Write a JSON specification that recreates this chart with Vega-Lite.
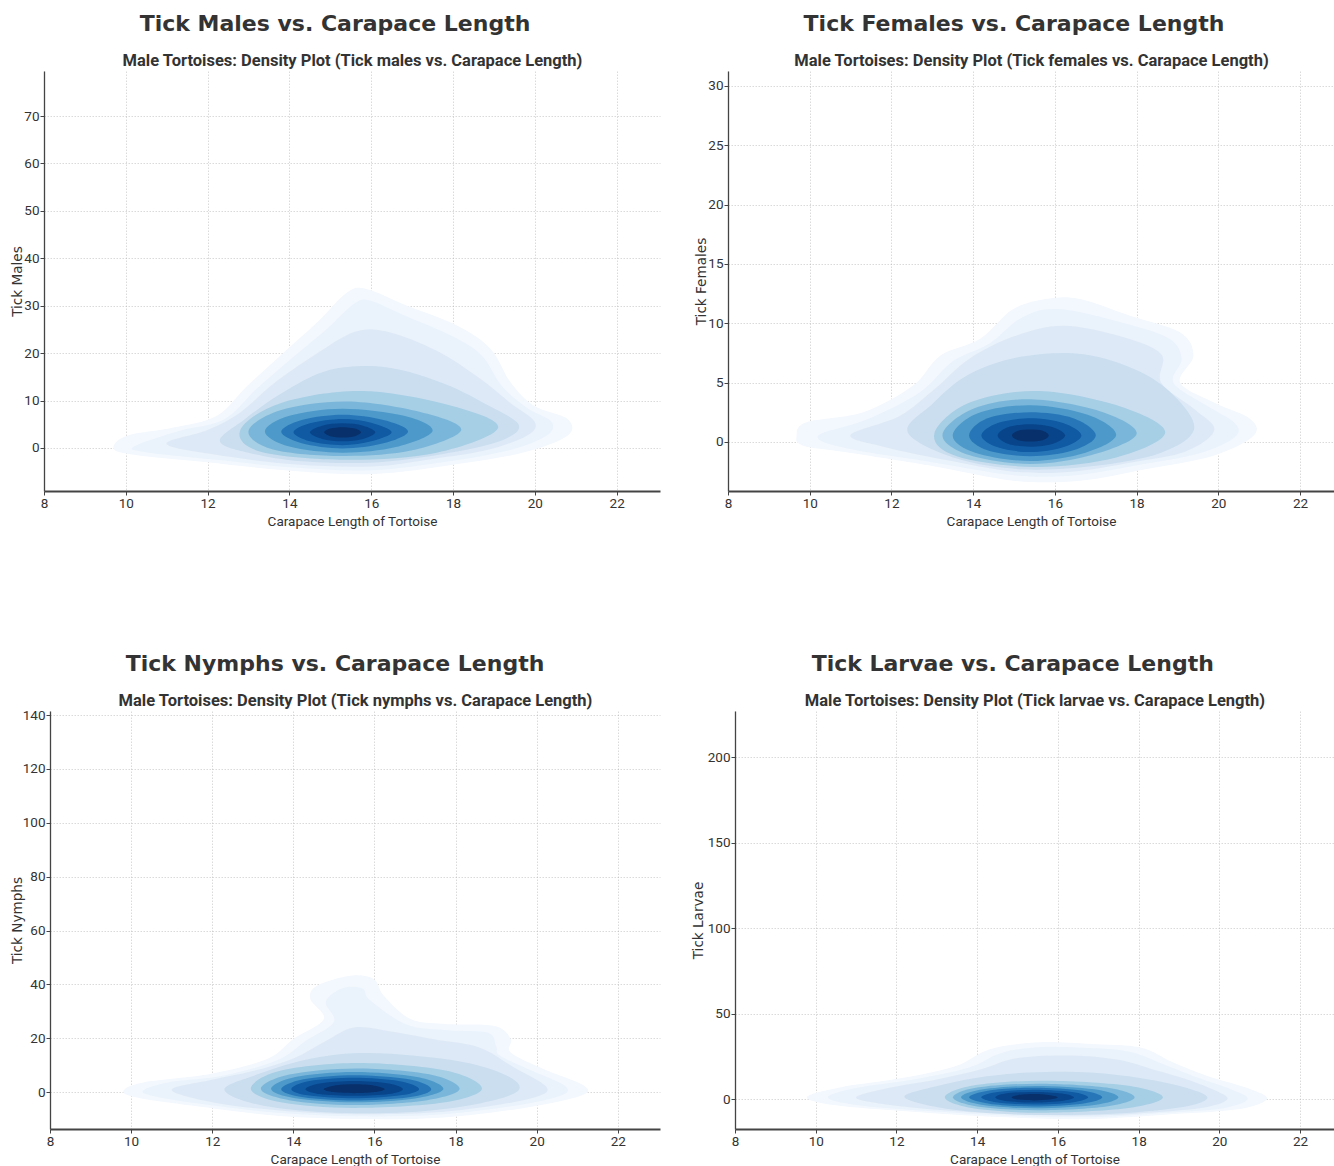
{
"$schema": "https://vega.github.io/schema/vega-lite/v6.json",
"padding": {"left": 10, "top": 13, "right": 0, "bottom": 0},
"background": "white",
"columns": 2,
"bounds": "flush",
"spacing": {"row": 220, "column": 68},
"datasets": {"c": [
{"p":"m","l":1,"x":9.7,"y":0.1},{"p":"m","l":1,"x":10.03,"y":2.6},{"p":"m","l":1,"x":11.17,"y":4.3},{"p":"m","l":1,"x":12.23,"y":6.8},{"p":"m","l":1,"x":12.97,"y":13.1},{"p":"m","l":1,"x":13.78,"y":19.5},{"p":"m","l":1,"x":14.68,"y":26.5},{"p":"m","l":1,"x":15.41,"y":32.8},{"p":"m","l":1,"x":15.9,"y":33.5},{"p":"m","l":1,"x":16.88,"y":30.0},{"p":"m","l":1,"x":18.11,"y":25.8},{"p":"m","l":1,"x":18.92,"y":20.9},{"p":"m","l":1,"x":19.41,"y":13.8},{"p":"m","l":1,"x":19.98,"y":8.9},{"p":"m","l":1,"x":20.8,"y":6.1},{"p":"m","l":1,"x":20.8,"y":2.6},{"p":"m","l":1,"x":19.74,"y":-0.9},{"p":"m","l":1,"x":18.11,"y":-3.4},{"p":"m","l":1,"x":16.07,"y":-5.5},{"p":"m","l":1,"x":14.03,"y":-4.8},{"p":"m","l":1,"x":11.99,"y":-3.0},{"p":"m","l":1,"x":10.11,"y":-1.3},
{"p":"m","l":2,"x":10.2,"y":0.3},{"p":"m","l":2,"x":11.3,"y":3.6},{"p":"m","l":2,"x":12.4,"y":6.0},{"p":"m","l":2,"x":13.2,"y":12.5},{"p":"m","l":2,"x":14.0,"y":18.5},{"p":"m","l":2,"x":14.9,"y":25.0},{"p":"m","l":2,"x":15.6,"y":30.5},{"p":"m","l":2,"x":16.0,"y":31.0},{"p":"m","l":2,"x":16.8,"y":28.0},{"p":"m","l":2,"x":18.0,"y":23.5},{"p":"m","l":2,"x":18.7,"y":19.5},{"p":"m","l":2,"x":19.2,"y":13.0},{"p":"m","l":2,"x":19.8,"y":8.5},{"p":"m","l":2,"x":20.4,"y":5.6},{"p":"m","l":2,"x":20.3,"y":2.7},{"p":"m","l":2,"x":19.4,"y":-0.4},{"p":"m","l":2,"x":17.9,"y":-2.8},{"p":"m","l":2,"x":16.0,"y":-4.7},{"p":"m","l":2,"x":14.1,"y":-4.1},{"p":"m","l":2,"x":12.1,"y":-2.4},{"p":"m","l":2,"x":10.5,"y":-0.9},
{"p":"m","l":3,"x":11.0,"y":0.8},{"p":"m","l":3,"x":12.0,"y":3.8},{"p":"m","l":3,"x":12.8,"y":7.5},{"p":"m","l":3,"x":13.6,"y":13.5},{"p":"m","l":3,"x":14.6,"y":19.5},{"p":"m","l":3,"x":15.6,"y":24.5},{"p":"m","l":3,"x":16.4,"y":24.5},{"p":"m","l":3,"x":17.6,"y":20.5},{"p":"m","l":3,"x":18.6,"y":15.0},{"p":"m","l":3,"x":19.4,"y":9.5},{"p":"m","l":3,"x":20.0,"y":5.5},{"p":"m","l":3,"x":19.8,"y":2.6},{"p":"m","l":3,"x":18.8,"y":-0.5},{"p":"m","l":3,"x":17.5,"y":-2.3},{"p":"m","l":3,"x":16.0,"y":-3.9},{"p":"m","l":3,"x":14.2,"y":-3.5},{"p":"m","l":3,"x":12.5,"y":-1.8},
{"p":"m","l":4,"x":12.3,"y":1.5},{"p":"m","l":4,"x":12.9,"y":6.0},{"p":"m","l":4,"x":13.8,"y":11.5},{"p":"m","l":4,"x":15.0,"y":16.5},{"p":"m","l":4,"x":16.4,"y":17.0},{"p":"m","l":4,"x":17.8,"y":13.5},{"p":"m","l":4,"x":18.9,"y":8.8},{"p":"m","l":4,"x":19.6,"y":5.0},{"p":"m","l":4,"x":19.3,"y":2.0},{"p":"m","l":4,"x":18.2,"y":-0.6},{"p":"m","l":4,"x":16.2,"y":-3.0},{"p":"m","l":4,"x":14.3,"y":-2.8},{"p":"m","l":4,"x":13.0,"y":-1.0},
{"p":"m","l":5,"x":19.1,"y":4.2},{"p":"m","l":5,"x":18.0,"y":8.8},{"p":"m","l":5,"x":15.8,"y":12.0},{"p":"m","l":5,"x":13.8,"y":9.5},{"p":"m","l":5,"x":12.8,"y":3.8},{"p":"m","l":5,"x":13.3,"y":-0.8},{"p":"m","l":5,"x":15.4,"y":-2.5},{"p":"m","l":5,"x":17.6,"y":-1.0},
{"p":"m","l":6,"x":18.2,"y":3.8},{"p":"m","l":6,"x":17.2,"y":7.6},{"p":"m","l":6,"x":15.4,"y":9.8},{"p":"m","l":6,"x":13.8,"y":8.0},{"p":"m","l":6,"x":13.0,"y":3.6},{"p":"m","l":6,"x":13.6,"y":-0.3},{"p":"m","l":6,"x":15.3,"y":-1.7},{"p":"m","l":6,"x":17.0,"y":-0.5},
{"p":"m","l":7,"x":17.5,"y":3.6},{"p":"m","l":7,"x":16.8,"y":6.8},{"p":"m","l":7,"x":15.3,"y":8.3},{"p":"m","l":7,"x":14.0,"y":6.8},{"p":"m","l":7,"x":13.4,"y":3.5},{"p":"m","l":7,"x":14.0,"y":0.3},{"p":"m","l":7,"x":15.3,"y":-1.0},{"p":"m","l":7,"x":16.6,"y":0.2},
{"p":"m","l":8,"x":16.9,"y":3.5},{"p":"m","l":8,"x":16.3,"y":5.9},{"p":"m","l":8,"x":15.3,"y":7.0},{"p":"m","l":8,"x":14.3,"y":5.9},{"p":"m","l":8,"x":13.8,"y":3.4},{"p":"m","l":8,"x":14.3,"y":1.0},{"p":"m","l":8,"x":15.3,"y":-0.1},{"p":"m","l":8,"x":16.3,"y":1.0},
{"p":"m","l":9,"x":16.5,"y":3.3},{"p":"m","l":9,"x":16.0,"y":5.3},{"p":"m","l":9,"x":15.3,"y":6.1},{"p":"m","l":9,"x":14.5,"y":5.2},{"p":"m","l":9,"x":14.1,"y":3.3},{"p":"m","l":9,"x":14.5,"y":1.4},{"p":"m","l":9,"x":15.3,"y":0.6},{"p":"m","l":9,"x":16.0,"y":1.4},
{"p":"m","l":10,"x":16.1,"y":3.3},{"p":"m","l":10,"x":15.8,"y":4.7},{"p":"m","l":10,"x":15.3,"y":5.2},{"p":"m","l":10,"x":14.8,"y":4.7},{"p":"m","l":10,"x":14.5,"y":3.3},{"p":"m","l":10,"x":14.8,"y":1.9},{"p":"m","l":10,"x":15.3,"y":1.4},{"p":"m","l":10,"x":15.8,"y":1.9},
{"p":"m","l":11,"x":15.75,"y":3.3},{"p":"m","l":11,"x":15.6,"y":4.1},{"p":"m","l":11,"x":15.3,"y":4.4},{"p":"m","l":11,"x":15.0,"y":4.1},{"p":"m","l":11,"x":14.85,"y":3.3},{"p":"m","l":11,"x":15.0,"y":2.5},{"p":"m","l":11,"x":15.3,"y":2.2},{"p":"m","l":11,"x":15.6,"y":2.5},

{"p":"f","l":1,"x":9.68,"y":0.53},{"p":"f","l":1,"x":9.92,"y":1.66},{"p":"f","l":1,"x":11.31,"y":2.5},{"p":"f","l":1,"x":12.53,"y":4.75},{"p":"f","l":1,"x":13.19,"y":7.27},{"p":"f","l":1,"x":14.17,"y":8.7},{"p":"f","l":1,"x":14.98,"y":11.2},{"p":"f","l":1,"x":15.8,"y":12.05},{"p":"f","l":1,"x":16.61,"y":12.05},{"p":"f","l":1,"x":17.84,"y":10.64},{"p":"f","l":1,"x":19.06,"y":9.24},{"p":"f","l":1,"x":19.39,"y":7.27},{"p":"f","l":1,"x":19.06,"y":5.03},{"p":"f","l":1,"x":19.88,"y":3.34},{"p":"f","l":1,"x":20.78,"y":1.94},{"p":"f","l":1,"x":20.86,"y":0.53},{"p":"f","l":1,"x":19.88,"y":-1.15},{"p":"f","l":1,"x":18.25,"y":-2.27},{"p":"f","l":1,"x":16.61,"y":-3.26},{"p":"f","l":1,"x":14.98,"y":-3.26},{"p":"f","l":1,"x":12.94,"y":-1.99},{"p":"f","l":1,"x":10.9,"y":-0.87},{"p":"f","l":1,"x":9.84,"y":-0.31},
{"p":"f","l":2,"x":10.2,"y":0.5},{"p":"f","l":2,"x":11.4,"y":1.9},{"p":"f","l":2,"x":12.7,"y":4.2},{"p":"f","l":2,"x":13.5,"y":6.8},{"p":"f","l":2,"x":14.4,"y":8.3},{"p":"f","l":2,"x":15.2,"y":10.5},{"p":"f","l":2,"x":16.1,"y":11.2},{"p":"f","l":2,"x":17.7,"y":10.0},{"p":"f","l":2,"x":18.8,"y":8.7},{"p":"f","l":2,"x":19.1,"y":7.0},{"p":"f","l":2,"x":18.9,"y":5.0},{"p":"f","l":2,"x":19.7,"y":3.1},{"p":"f","l":2,"x":20.4,"y":1.6},{"p":"f","l":2,"x":20.4,"y":0.4},{"p":"f","l":2,"x":19.5,"y":-1.0},{"p":"f","l":2,"x":18.1,"y":-1.9},{"p":"f","l":2,"x":16.5,"y":-2.8},{"p":"f","l":2,"x":15.0,"y":-2.8},{"p":"f","l":2,"x":13.0,"y":-1.7},{"p":"f","l":2,"x":11.0,"y":-0.6},
{"p":"f","l":3,"x":11.0,"y":0.6},{"p":"f","l":3,"x":12.2,"y":2.2},{"p":"f","l":3,"x":13.1,"y":4.6},{"p":"f","l":3,"x":13.9,"y":7.0},{"p":"f","l":3,"x":15.0,"y":8.9},{"p":"f","l":3,"x":16.2,"y":9.8},{"p":"f","l":3,"x":17.6,"y":8.9},{"p":"f","l":3,"x":18.6,"y":7.4},{"p":"f","l":3,"x":18.6,"y":5.0},{"p":"f","l":3,"x":19.4,"y":2.8},{"p":"f","l":3,"x":19.9,"y":1.0},{"p":"f","l":3,"x":19.2,"y":-0.8},{"p":"f","l":3,"x":17.9,"y":-1.7},{"p":"f","l":3,"x":16.4,"y":-2.5},{"p":"f","l":3,"x":15.0,"y":-2.5},{"p":"f","l":3,"x":13.3,"y":-1.5},{"p":"f","l":3,"x":11.8,"y":-0.4},
{"p":"f","l":4,"x":12.4,"y":0.8},{"p":"f","l":4,"x":13.0,"y":3.2},{"p":"f","l":4,"x":13.9,"y":5.7},{"p":"f","l":4,"x":15.2,"y":7.2},{"p":"f","l":4,"x":16.7,"y":7.4},{"p":"f","l":4,"x":18.1,"y":5.9},{"p":"f","l":4,"x":19.0,"y":3.6},{"p":"f","l":4,"x":19.4,"y":1.0},{"p":"f","l":4,"x":18.6,"y":-0.9},{"p":"f","l":4,"x":17.0,"y":-2.0},{"p":"f","l":4,"x":15.2,"y":-2.3},{"p":"f","l":4,"x":13.6,"y":-1.4},
{"p":"f","l":5,"x":18.7,"y":0.8},{"p":"f","l":5,"x":17.6,"y":3.0},{"p":"f","l":5,"x":15.6,"y":4.3},{"p":"f","l":5,"x":13.9,"y":3.3},{"p":"f","l":5,"x":13.05,"y":0.7},{"p":"f","l":5,"x":13.6,"y":-1.2},{"p":"f","l":5,"x":15.5,"y":-2.1},{"p":"f","l":5,"x":17.5,"y":-1.3},
{"p":"f","l":6,"x":18.0,"y":0.7},{"p":"f","l":6,"x":17.1,"y":2.6},{"p":"f","l":6,"x":15.4,"y":3.6},{"p":"f","l":6,"x":14.0,"y":2.8},{"p":"f","l":6,"x":13.25,"y":0.6},{"p":"f","l":6,"x":13.9,"y":-1.1},{"p":"f","l":6,"x":15.4,"y":-1.85},{"p":"f","l":6,"x":16.9,"y":-1.1},
{"p":"f","l":7,"x":17.5,"y":0.6},{"p":"f","l":7,"x":16.8,"y":2.3},{"p":"f","l":7,"x":15.4,"y":3.1},{"p":"f","l":7,"x":14.1,"y":2.4},{"p":"f","l":7,"x":13.5,"y":0.55},{"p":"f","l":7,"x":14.05,"y":-0.9},{"p":"f","l":7,"x":15.4,"y":-1.6},{"p":"f","l":7,"x":16.75,"y":-0.9},
{"p":"f","l":8,"x":17.0,"y":0.55},{"p":"f","l":8,"x":16.45,"y":2.0},{"p":"f","l":8,"x":15.4,"y":2.5},{"p":"f","l":8,"x":14.35,"y":2.0},{"p":"f","l":8,"x":13.9,"y":0.55},{"p":"f","l":8,"x":14.35,"y":-0.7},{"p":"f","l":8,"x":15.4,"y":-1.2},{"p":"f","l":8,"x":16.45,"y":-0.7},
{"p":"f","l":9,"x":16.65,"y":0.55},{"p":"f","l":9,"x":16.2,"y":1.6},{"p":"f","l":9,"x":15.4,"y":2.0},{"p":"f","l":9,"x":14.6,"y":1.6},{"p":"f","l":9,"x":14.2,"y":0.55},{"p":"f","l":9,"x":14.6,"y":-0.45},{"p":"f","l":9,"x":15.4,"y":-0.85},{"p":"f","l":9,"x":16.2,"y":-0.45},
{"p":"f","l":10,"x":16.25,"y":0.55},{"p":"f","l":10,"x":15.95,"y":1.25},{"p":"f","l":10,"x":15.4,"y":1.5},{"p":"f","l":10,"x":14.85,"y":1.25},{"p":"f","l":10,"x":14.6,"y":0.55},{"p":"f","l":10,"x":14.85,"y":-0.15},{"p":"f","l":10,"x":15.4,"y":-0.4},{"p":"f","l":10,"x":15.95,"y":-0.15},
{"p":"f","l":11,"x":15.85,"y":0.55},{"p":"f","l":11,"x":15.7,"y":0.95},{"p":"f","l":11,"x":15.4,"y":1.05},{"p":"f","l":11,"x":15.1,"y":0.95},{"p":"f","l":11,"x":14.95,"y":0.55},{"p":"f","l":11,"x":15.1,"y":0.15},{"p":"f","l":11,"x":15.4,"y":0.05},{"p":"f","l":11,"x":15.7,"y":0.15},

{"p":"n","l":1,"x":9.81,"y":0.49},{"p":"n","l":1,"x":10.3,"y":3.6},{"p":"n","l":1,"x":11.95,"y":6.7},{"p":"n","l":1,"x":13.35,"y":12.25},{"p":"n","l":1,"x":14.0,"y":19.7},{"p":"n","l":1,"x":14.75,"y":27.1},{"p":"n","l":1,"x":14.42,"y":34.5},{"p":"n","l":1,"x":14.58,"y":39.5},{"p":"n","l":1,"x":15.41,"y":43.2},{"p":"n","l":1,"x":15.98,"y":42.0},{"p":"n","l":1,"x":16.23,"y":35.8},{"p":"n","l":1,"x":16.89,"y":27.1},{"p":"n","l":1,"x":17.71,"y":25.3},{"p":"n","l":1,"x":18.95,"y":24.6},{"p":"n","l":1,"x":19.36,"y":19.7},{"p":"n","l":1,"x":19.36,"y":14.7},{"p":"n","l":1,"x":20.18,"y":8.5},{"p":"n","l":1,"x":21.17,"y":2.4},{"p":"n","l":1,"x":21.08,"y":-1.4},{"p":"n","l":1,"x":19.77,"y":-5.7},{"p":"n","l":1,"x":17.71,"y":-9.4},{"p":"n","l":1,"x":15.65,"y":-10.0},{"p":"n","l":1,"x":13.6,"y":-8.8},{"p":"n","l":1,"x":11.54,"y":-5.1},{"p":"n","l":1,"x":10.14,"y":-2.0},
{"p":"n","l":2,"x":10.3,"y":0.6},{"p":"n","l":2,"x":11.0,"y":3.8},{"p":"n","l":2,"x":12.3,"y":6.2},{"p":"n","l":2,"x":13.6,"y":11.8},{"p":"n","l":2,"x":14.3,"y":19.0},{"p":"n","l":2,"x":15.0,"y":26.0},{"p":"n","l":2,"x":14.8,"y":33.5},{"p":"n","l":2,"x":15.2,"y":38.5},{"p":"n","l":2,"x":15.7,"y":38.5},{"p":"n","l":2,"x":15.9,"y":34.0},{"p":"n","l":2,"x":16.8,"y":25.0},{"p":"n","l":2,"x":17.8,"y":23.0},{"p":"n","l":2,"x":18.8,"y":22.0},{"p":"n","l":2,"x":19.0,"y":17.0},{"p":"n","l":2,"x":19.1,"y":13.5},{"p":"n","l":2,"x":19.9,"y":7.8},{"p":"n","l":2,"x":20.7,"y":2.3},{"p":"n","l":2,"x":20.6,"y":-1.3},{"p":"n","l":2,"x":19.5,"y":-5.0},{"p":"n","l":2,"x":17.6,"y":-8.3},{"p":"n","l":2,"x":15.6,"y":-9.0},{"p":"n","l":2,"x":13.7,"y":-7.8},{"p":"n","l":2,"x":11.8,"y":-4.5},{"p":"n","l":2,"x":10.6,"y":-1.6},
{"p":"n","l":3,"x":11.0,"y":0.8},{"p":"n","l":3,"x":12.0,"y":4.6},{"p":"n","l":3,"x":13.0,"y":7.8},{"p":"n","l":3,"x":14.0,"y":12.5},{"p":"n","l":3,"x":14.8,"y":19.0},{"p":"n","l":3,"x":15.5,"y":24.0},{"p":"n","l":3,"x":16.4,"y":22.5},{"p":"n","l":3,"x":17.5,"y":19.5},{"p":"n","l":3,"x":18.6,"y":16.5},{"p":"n","l":3,"x":19.4,"y":9.5},{"p":"n","l":3,"x":20.2,"y":2.5},{"p":"n","l":3,"x":20.1,"y":-1.2},{"p":"n","l":3,"x":19.1,"y":-4.6},{"p":"n","l":3,"x":17.5,"y":-7.5},{"p":"n","l":3,"x":15.6,"y":-8.2},{"p":"n","l":3,"x":13.8,"y":-7.0},{"p":"n","l":3,"x":12.1,"y":-4.0},
{"p":"n","l":4,"x":12.3,"y":1.0},{"p":"n","l":4,"x":13.1,"y":6.5},{"p":"n","l":4,"x":14.3,"y":12.0},{"p":"n","l":4,"x":15.6,"y":14.5},{"p":"n","l":4,"x":17.0,"y":13.5},{"p":"n","l":4,"x":18.4,"y":10.5},{"p":"n","l":4,"x":19.4,"y":5.0},{"p":"n","l":4,"x":19.5,"y":0.0},{"p":"n","l":4,"x":18.5,"y":-4.5},{"p":"n","l":4,"x":16.8,"y":-7.5},{"p":"n","l":4,"x":14.8,"y":-7.5},{"p":"n","l":4,"x":13.1,"y":-4.5},
{"p":"n","l":5,"x":18.65,"y":1.3},{"p":"n","l":5,"x":17.75,"y":8.0},{"p":"n","l":5,"x":15.6,"y":10.8},{"p":"n","l":5,"x":13.7,"y":8.0},{"p":"n","l":5,"x":12.95,"y":1.3},{"p":"n","l":5,"x":13.7,"y":-3.8},{"p":"n","l":5,"x":15.5,"y":-5.9},{"p":"n","l":5,"x":17.7,"y":-3.9},
{"p":"n","l":6,"x":18.1,"y":1.2},{"p":"n","l":6,"x":17.35,"y":6.6},{"p":"n","l":6,"x":15.55,"y":8.8},{"p":"n","l":6,"x":13.9,"y":6.5},{"p":"n","l":6,"x":13.2,"y":1.2},{"p":"n","l":6,"x":13.9,"y":-3.0},{"p":"n","l":6,"x":15.5,"y":-4.8},{"p":"n","l":6,"x":17.3,"y":-3.0},
{"p":"n","l":7,"x":17.7,"y":1.2},{"p":"n","l":7,"x":17.05,"y":5.6},{"p":"n","l":7,"x":15.5,"y":7.5},{"p":"n","l":7,"x":14.05,"y":5.6},{"p":"n","l":7,"x":13.45,"y":1.2},{"p":"n","l":7,"x":14.05,"y":-2.3},{"p":"n","l":7,"x":15.5,"y":-3.8},{"p":"n","l":7,"x":17.0,"y":-2.4},
{"p":"n","l":8,"x":17.4,"y":1.1},{"p":"n","l":8,"x":16.85,"y":4.8},{"p":"n","l":8,"x":15.5,"y":6.3},{"p":"n","l":8,"x":14.25,"y":4.8},{"p":"n","l":8,"x":13.7,"y":1.1},{"p":"n","l":8,"x":14.25,"y":-1.9},{"p":"n","l":8,"x":15.5,"y":-3.1},{"p":"n","l":8,"x":16.85,"y":-1.9},
{"p":"n","l":9,"x":17.1,"y":1.1},{"p":"n","l":9,"x":16.6,"y":4.1},{"p":"n","l":9,"x":15.5,"y":5.3},{"p":"n","l":9,"x":14.4,"y":4.1},{"p":"n","l":9,"x":13.95,"y":1.1},{"p":"n","l":9,"x":14.4,"y":-1.3},{"p":"n","l":9,"x":15.5,"y":-2.3},{"p":"n","l":9,"x":16.6,"y":-1.3},
{"p":"n","l":10,"x":16.7,"y":1.1},{"p":"n","l":10,"x":16.35,"y":3.2},{"p":"n","l":10,"x":15.5,"y":4.1},{"p":"n","l":10,"x":14.65,"y":3.2},{"p":"n","l":10,"x":14.3,"y":1.1},{"p":"n","l":10,"x":14.65,"y":-0.7},{"p":"n","l":10,"x":15.5,"y":-1.4},{"p":"n","l":10,"x":16.35,"y":-0.7},
{"p":"n","l":11,"x":16.25,"y":1.1},{"p":"n","l":11,"x":16.0,"y":2.4},{"p":"n","l":11,"x":15.5,"y":2.9},{"p":"n","l":11,"x":15.0,"y":2.4},{"p":"n","l":11,"x":14.75,"y":1.1},{"p":"n","l":11,"x":15.0,"y":0.0},{"p":"n","l":11,"x":15.5,"y":-0.4},{"p":"n","l":11,"x":16.0,"y":0.0},

{"p":"l","l":1,"x":9.78,"y":0.98},{"p":"l","l":1,"x":10.6,"y":6.8},{"p":"l","l":1,"x":12.25,"y":12.7},{"p":"l","l":1,"x":13.49,"y":19.5},{"p":"l","l":1,"x":14.32,"y":29.2},{"p":"l","l":1,"x":15.56,"y":33.2},{"p":"l","l":1,"x":16.8,"y":32.2},{"p":"l","l":1,"x":18.04,"y":30.2},{"p":"l","l":1,"x":18.86,"y":21.4},{"p":"l","l":1,"x":19.69,"y":13.7},{"p":"l","l":1,"x":20.76,"y":5.9},{"p":"l","l":1,"x":21.18,"y":0.0},{"p":"l","l":1,"x":20.51,"y":-5.8},{"p":"l","l":1,"x":18.86,"y":-8.8},{"p":"l","l":1,"x":16.8,"y":-11.7},{"p":"l","l":1,"x":14.73,"y":-10.7},{"p":"l","l":1,"x":12.67,"y":-7.8},{"p":"l","l":1,"x":10.6,"y":-3.9},
{"p":"l","l":2,"x":10.3,"y":1.0},{"p":"l","l":2,"x":11.0,"y":6.5},{"p":"l","l":2,"x":12.5,"y":11.8},{"p":"l","l":2,"x":13.8,"y":18.5},{"p":"l","l":2,"x":14.6,"y":27.0},{"p":"l","l":2,"x":15.6,"y":30.5},{"p":"l","l":2,"x":16.8,"y":29.8},{"p":"l","l":2,"x":17.8,"y":27.5},{"p":"l","l":2,"x":18.6,"y":20.5},{"p":"l","l":2,"x":19.4,"y":13.0},{"p":"l","l":2,"x":20.3,"y":5.6},{"p":"l","l":2,"x":20.7,"y":0.0},{"p":"l","l":2,"x":20.1,"y":-5.3},{"p":"l","l":2,"x":18.7,"y":-8.0},{"p":"l","l":2,"x":16.8,"y":-10.6},{"p":"l","l":2,"x":14.8,"y":-9.8},{"p":"l","l":2,"x":12.8,"y":-7.0},{"p":"l","l":2,"x":11.0,"y":-3.4},
{"p":"l","l":3,"x":11.0,"y":1.0},{"p":"l","l":3,"x":11.8,"y":6.5},{"p":"l","l":3,"x":13.0,"y":11.5},{"p":"l","l":3,"x":14.1,"y":17.5},{"p":"l","l":3,"x":15.0,"y":24.0},{"p":"l","l":3,"x":16.3,"y":25.5},{"p":"l","l":3,"x":17.5,"y":23.0},{"p":"l","l":3,"x":18.4,"y":17.0},{"p":"l","l":3,"x":19.2,"y":11.5},{"p":"l","l":3,"x":19.9,"y":5.0},{"p":"l","l":3,"x":20.2,"y":0.0},{"p":"l","l":3,"x":19.7,"y":-4.6},{"p":"l","l":3,"x":18.5,"y":-7.5},{"p":"l","l":3,"x":16.8,"y":-9.6},{"p":"l","l":3,"x":14.9,"y":-9.0},{"p":"l","l":3,"x":13.1,"y":-6.4},{"p":"l","l":3,"x":11.7,"y":-3.0},
{"p":"l","l":4,"x":12.2,"y":1.0},{"p":"l","l":4,"x":12.9,"y":7.0},{"p":"l","l":4,"x":14.0,"y":12.5},{"p":"l","l":4,"x":15.3,"y":15.5},{"p":"l","l":4,"x":16.8,"y":15.5},{"p":"l","l":4,"x":18.1,"y":12.0},{"p":"l","l":4,"x":19.2,"y":6.5},{"p":"l","l":4,"x":19.7,"y":0.5},{"p":"l","l":4,"x":19.0,"y":-5.0},{"p":"l","l":4,"x":17.2,"y":-8.8},{"p":"l","l":4,"x":15.0,"y":-9.0},{"p":"l","l":4,"x":13.2,"y":-5.5},
{"p":"l","l":5,"x":18.6,"y":1.0},{"p":"l","l":5,"x":17.7,"y":7.9},{"p":"l","l":5,"x":15.6,"y":10.7},{"p":"l","l":5,"x":13.9,"y":7.9},{"p":"l","l":5,"x":13.2,"y":1.0},{"p":"l","l":5,"x":13.9,"y":-5.4},{"p":"l","l":5,"x":15.6,"y":-8.0},{"p":"l","l":5,"x":17.7,"y":-5.4},
{"p":"l","l":6,"x":17.9,"y":1.0},{"p":"l","l":6,"x":17.2,"y":6.7},{"p":"l","l":6,"x":15.5,"y":9.0},{"p":"l","l":6,"x":14.0,"y":6.7},{"p":"l","l":6,"x":13.4,"y":1.0},{"p":"l","l":6,"x":14.0,"y":-4.3},{"p":"l","l":6,"x":15.5,"y":-6.5},{"p":"l","l":6,"x":17.2,"y":-4.3},
{"p":"l","l":7,"x":17.5,"y":1.0},{"p":"l","l":7,"x":16.9,"y":5.7},{"p":"l","l":7,"x":15.45,"y":7.7},{"p":"l","l":7,"x":14.15,"y":5.7},{"p":"l","l":7,"x":13.6,"y":1.0},{"p":"l","l":7,"x":14.15,"y":-3.5},{"p":"l","l":7,"x":15.45,"y":-5.4},{"p":"l","l":7,"x":16.9,"y":-3.5},
{"p":"l","l":8,"x":17.1,"y":1.0},{"p":"l","l":8,"x":16.6,"y":5.0},{"p":"l","l":8,"x":15.4,"y":6.6},{"p":"l","l":8,"x":14.3,"y":5.0},{"p":"l","l":8,"x":13.8,"y":1.0},{"p":"l","l":8,"x":14.3,"y":-2.7},{"p":"l","l":8,"x":15.4,"y":-4.3},{"p":"l","l":8,"x":16.6,"y":-2.7},
{"p":"l","l":9,"x":16.75,"y":1.0},{"p":"l","l":9,"x":16.35,"y":4.1},{"p":"l","l":9,"x":15.4,"y":5.4},{"p":"l","l":9,"x":14.5,"y":4.1},{"p":"l","l":9,"x":14.1,"y":1.0},{"p":"l","l":9,"x":14.5,"y":-2.0},{"p":"l","l":9,"x":15.4,"y":-3.2},{"p":"l","l":9,"x":16.35,"y":-2.0},
{"p":"l","l":10,"x":16.4,"y":1.0},{"p":"l","l":10,"x":16.1,"y":3.3},{"p":"l","l":10,"x":15.4,"y":4.2},{"p":"l","l":10,"x":14.7,"y":3.3},{"p":"l","l":10,"x":14.45,"y":1.0},{"p":"l","l":10,"x":14.7,"y":-1.1},{"p":"l","l":10,"x":15.4,"y":-2.0},{"p":"l","l":10,"x":16.1,"y":-1.1},
{"p":"l","l":11,"x":16.0,"y":1.0},{"p":"l","l":11,"x":15.8,"y":2.3},{"p":"l","l":11,"x":15.4,"y":2.9},{"p":"l","l":11,"x":15.0,"y":2.3},{"p":"l","l":11,"x":14.85,"y":1.0},{"p":"l","l":11,"x":15.0,"y":-0.3},{"p":"l","l":11,"x":15.4,"y":-0.8},{"p":"l","l":11,"x":15.8,"y":-0.3}
]},
"concat": [
{
 "width": 616, "height": 420,
 "title": {"text": "Tick Males vs. Carapace Length"},
 "data": {"name": "c"},
 "layer": [
  {"transform": [{"filter": "datum.p == 'm' && datum.l <= 4"}],
   "mark": {"type": "line", "interpolate": "cardinal-closed", "filled": true, "clip": true},
   "encoding": {
    "x": {"field": "x", "type": "quantitative", "scale": {"domain": [8, 23.06], "nice": false, "zero": false}, "axis": {"values": [8,10,12,14,16,18,20,22], "title": "Carapace Length of Tortoise"}},
    "y": {"field": "y", "type": "quantitative", "scale": {"domain": [-9.07, 79.5], "nice": false, "zero": false}, "axis": {"values": [0,10,20,30,40,50,60,70], "title": "Tick Males", "titleX": -20}},
    "color": {"field": "l", "type": "ordinal", "scale": {"domain": [1,2,3,4,5,6,7,8,9,10,11], "range": ["#f3f8fe","#eaf2fb","#dde9f6","#cadeef","#a6cee4","#7ab6d9","#4c99ca","#2777b8","#0f5aa3","#084489","#08306b"]}, "legend": null},
    "order": {"value": null}
   }},
  {"transform": [{"filter": "datum.p == 'm' && datum.l >= 5"}],
   "mark": {"type": "line", "interpolate": "cardinal-closed", "filled": true, "clip": true},
   "encoding": {
    "x": {"field": "x", "type": "quantitative", "scale": {"domain": [8, 23.06], "nice": false, "zero": false}, "axis": {"orient": "top", "title": "Male Tortoises: Density Plot (Tick males vs. Carapace Length)", "labels": false, "ticks": false, "domain": false, "grid": false, "titleFont": "Roboto", "titleFontWeight": "bold", "titleFontSize": 16.5, "titlePadding": 6, "titleBaseline": "alphabetic"}},
    "y": {"field": "y", "type": "quantitative", "scale": {"domain": [-9.07, 79.5], "nice": false, "zero": false}},
    "color": {"field": "l", "type": "ordinal", "legend": null},
    "order": {"value": null}
   }}
 ],
 "resolve": {"axis": {"x": "independent"}}
},
{
 "width": 606, "height": 420,
 "title": {"text": "Tick Females vs. Carapace Length"},
 "data": {"name": "c"},
 "layer": [
  {"transform": [{"filter": "datum.p == 'f' && datum.l <= 4"}],
   "mark": {"type": "line", "interpolate": "cardinal-closed", "filled": true, "clip": true},
   "encoding": {
    "x": {"field": "x", "type": "quantitative", "scale": {"domain": [8, 22.83], "nice": false, "zero": false}, "axis": {"values": [8,10,12,14,16,18,20,22], "title": "Carapace Length of Tortoise"}},
    "y": {"field": "y", "type": "quantitative", "scale": {"domain": [-4.13, 31.26], "nice": false, "zero": false}, "axis": {"values": [0,5,10,15,20,25,30], "title": "Tick Females", "titleX": -20}},
    "color": {"field": "l", "type": "ordinal", "scale": {"domain": [1,2,3,4,5,6,7,8,9,10,11], "range": ["#f3f8fe","#eaf2fb","#dde9f6","#cadeef","#a6cee4","#7ab6d9","#4c99ca","#2777b8","#0f5aa3","#084489","#08306b"]}, "legend": null},
    "order": {"value": null}
   }},
  {"transform": [{"filter": "datum.p == 'f' && datum.l >= 5"}],
   "mark": {"type": "line", "interpolate": "cardinal-closed", "filled": true, "clip": true},
   "encoding": {
    "x": {"field": "x", "type": "quantitative", "scale": {"domain": [8, 22.83], "nice": false, "zero": false}, "axis": {"orient": "top", "title": "Male Tortoises: Density Plot (Tick females vs. Carapace Length)", "labels": false, "ticks": false, "domain": false, "grid": false, "titleFont": "Roboto", "titleFontWeight": "bold", "titleFontSize": 16.5, "titlePadding": 6, "titleBaseline": "alphabetic"}},
    "y": {"field": "y", "type": "quantitative", "scale": {"domain": [-4.13, 31.26], "nice": false, "zero": false}},
    "color": {"field": "l", "type": "ordinal", "legend": null},
    "order": {"value": null}
   }}
 ],
 "resolve": {"axis": {"x": "independent"}}
},
{
 "width": 616, "height": 418,
 "title": {"text": "Tick Nymphs vs. Carapace Length"},
 "data": {"name": "c"},
 "layer": [
  {"transform": [{"filter": "datum.p == 'n' && datum.l <= 4"}],
   "mark": {"type": "line", "interpolate": "cardinal-closed", "filled": true, "clip": true},
   "encoding": {
    "x": {"field": "x", "type": "quantitative", "scale": {"domain": [8, 23.04], "range": [6, 616], "nice": false, "zero": false}, "axis": {"values": [8,10,12,14,16,18,20,22], "title": "Carapace Length of Tortoise"}},
    "y": {"field": "y", "type": "quantitative", "scale": {"domain": [-13.7, 141.5], "nice": false, "zero": false}, "axis": {"values": [0,20,40,60,80,100,120,140], "title": "Tick Nymphs", "titleX": -26, "offset": -6}},
    "color": {"field": "l", "type": "ordinal", "scale": {"domain": [1,2,3,4,5,6,7,8,9,10,11], "range": ["#f3f8fe","#eaf2fb","#dde9f6","#cadeef","#a6cee4","#7ab6d9","#4c99ca","#2777b8","#0f5aa3","#084489","#08306b"]}, "legend": null},
    "order": {"value": null}
   }},
  {"transform": [{"filter": "datum.p == 'n' && datum.l >= 5"}],
   "mark": {"type": "line", "interpolate": "cardinal-closed", "filled": true, "clip": true},
   "encoding": {
    "x": {"field": "x", "type": "quantitative", "scale": {"domain": [8, 23.04], "range": [6, 616], "nice": false, "zero": false}, "axis": {"orient": "top", "title": "Male Tortoises: Density Plot (Tick nymphs vs. Carapace Length)", "labels": false, "ticks": false, "domain": false, "grid": false, "titleFont": "Roboto", "titleFontWeight": "bold", "titleFontSize": 16.5, "titlePadding": 6, "titleBaseline": "alphabetic"}},
    "y": {"field": "y", "type": "quantitative", "scale": {"domain": [-13.7, 141.5], "nice": false, "zero": false}},
    "color": {"field": "l", "type": "ordinal", "legend": null},
    "order": {"value": null}
   }}
 ],
 "resolve": {"axis": {"x": "independent"}}
},
{
 "width": 606, "height": 418,
 "title": {"text": "Tick Larvae vs. Carapace Length"},
 "data": {"name": "c"},
 "layer": [
  {"transform": [{"filter": "datum.p == 'l' && datum.l <= 4"}],
   "mark": {"type": "line", "interpolate": "cardinal-closed", "filled": true, "clip": true},
   "encoding": {
    "x": {"field": "x", "type": "quantitative", "scale": {"domain": [8, 22.84], "range": [7, 606], "nice": false, "zero": false}, "axis": {"values": [8,10,12,14,16,18,20,22], "title": "Carapace Length of Tortoise"}},
    "y": {"field": "y", "type": "quantitative", "scale": {"domain": [-17.5, 226.9], "nice": false, "zero": false}, "axis": {"values": [0,50,100,150,200], "title": "Tick Larvae", "titleX": -29.5, "offset": -7}},
    "color": {"field": "l", "type": "ordinal", "scale": {"domain": [1,2,3,4,5,6,7,8,9,10,11], "range": ["#f3f8fe","#eaf2fb","#dde9f6","#cadeef","#a6cee4","#7ab6d9","#4c99ca","#2777b8","#0f5aa3","#084489","#08306b"]}, "legend": null},
    "order": {"value": null}
   }},
  {"transform": [{"filter": "datum.p == 'l' && datum.l >= 5"}],
   "mark": {"type": "line", "interpolate": "cardinal-closed", "filled": true, "clip": true},
   "encoding": {
    "x": {"field": "x", "type": "quantitative", "scale": {"domain": [8, 22.84], "range": [7, 606], "nice": false, "zero": false}, "axis": {"orient": "top", "title": "Male Tortoises: Density Plot (Tick larvae vs. Carapace Length)", "labels": false, "ticks": false, "domain": false, "grid": false, "titleFont": "Roboto", "titleFontWeight": "bold", "titleFontSize": 16.5, "titlePadding": 6, "titleBaseline": "alphabetic"}},
    "y": {"field": "y", "type": "quantitative", "scale": {"domain": [-17.5, 226.9], "nice": false, "zero": false}},
    "color": {"field": "l", "type": "ordinal", "legend": null},
    "order": {"value": null}
   }}
 ],
 "resolve": {"axis": {"x": "independent"}}
}
],
"config": {
 "view": {"stroke": null},
 "font": "DejaVu Sans",
 "axis": {
  "labelFont": "Roboto", "labelFontSize": 13.5, "labelColor": "#333333", "labelPadding": 1,
  "labelFlush": false, "labelOverlap": false,
  "titleFont": "Roboto", "titleFontSize": 13.5, "titleFontWeight": "normal", "titleColor": "#333333",
  "domainColor": "#444444", "tickColor": "#444444", "tickSize": 4, "tickWidth": 1,
  "gridColor": "#b0b0b0", "gridOpacity": 0.6, "gridDash": [1.5, 1.5], "gridWidth": 0.8,
  "zindex": 1
 },
 "axisX": {"domainWidth": 2, "titlePadding": 5},
 "axisY": {"domainWidth": 1.3, "titleFont": "DejaVu Sans", "titleFontSize": 13.6},
 "title": {"font": "DejaVu Sans", "fontSize": 22, "fontWeight": "bold", "color": "#333333", "anchor": "middle", "frame": "bounds", "baseline": "alphabetic", "offset": 16}
}
}
